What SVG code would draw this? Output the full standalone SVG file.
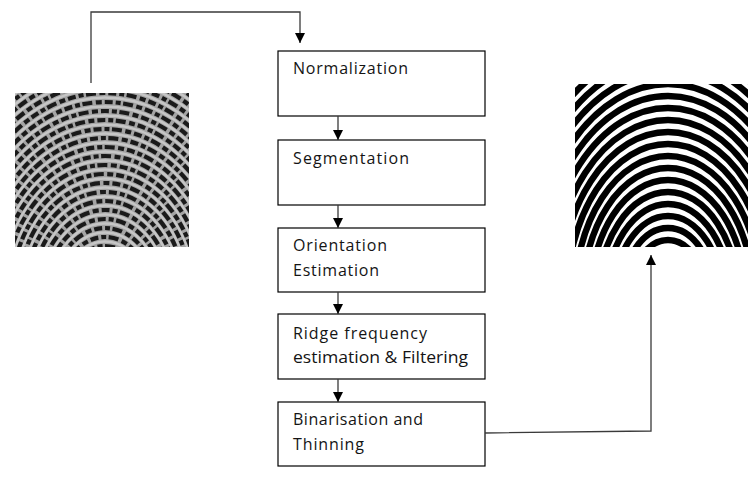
<svg xmlns="http://www.w3.org/2000/svg" width="756" height="481" viewBox="0 0 756 481">
  <style>
    .box { fill: #ffffff; stroke: #000000; stroke-width: 1.2; }
    .lbl { font-family: "Open Sans", "Liberation Sans", sans-serif; font-size: 16px; fill: #141414; }
    .conn { fill: none; stroke: #3a3a3a; stroke-width: 1.3; }
    .ridgeL { fill: none; stroke: #1a1a1a; stroke-width: 4.2; stroke-dasharray: 8 3 5 2.5 10 3.5 6 3; }
    .ridgeL2 { fill: none; stroke: #c6c6c6; stroke-width: 2.4; }
    .ridgeR { fill: none; stroke: #000000; stroke-width: 6.4; }
  </style>
  <defs>
    <marker id="arrow" viewBox="0 0 10 10" refX="10" refY="5" markerWidth="10" markerHeight="10" markerUnits="userSpaceOnUse" orient="auto">
      <path d="M0,0 L10,5 L0,10 Z" fill="#000000"/>
    </marker>
    <clipPath id="clipL"><rect x="15" y="93" width="174" height="154"/></clipPath>
    <clipPath id="clipR"><rect x="575" y="84" width="173" height="163"/></clipPath>
  </defs>

  <rect x="0" y="0" width="756" height="481" fill="#ffffff"/>

  <g id="node-input-fingerprint">
    <g clip-path="url(#clipL)">
      <rect x="15" y="93" width="174" height="154" fill="#a4a4a4"/>
      <g class="ridgeL2">
        <ellipse cx="105" cy="300" rx="37.1" ry="49.5"/>
        <ellipse cx="105" cy="300" rx="43.9" ry="58.5"/>
        <ellipse cx="105" cy="300" rx="50.6" ry="67.5"/>
        <ellipse cx="105" cy="300" rx="57.4" ry="76.5"/>
        <ellipse cx="105" cy="300" rx="64.1" ry="85.5"/>
        <ellipse cx="105" cy="300" rx="70.9" ry="94.5"/>
        <ellipse cx="105" cy="300" rx="77.6" ry="103.5"/>
        <ellipse cx="105" cy="300" rx="84.4" ry="112.5"/>
        <ellipse cx="105" cy="300" rx="91.1" ry="121.5"/>
        <ellipse cx="105" cy="300" rx="97.9" ry="130.5"/>
        <ellipse cx="105" cy="300" rx="104.6" ry="139.5"/>
        <ellipse cx="105" cy="300" rx="111.4" ry="148.5"/>
        <ellipse cx="105" cy="300" rx="118.1" ry="157.5"/>
        <ellipse cx="105" cy="300" rx="124.9" ry="166.5"/>
        <ellipse cx="105" cy="300" rx="131.6" ry="175.5"/>
        <ellipse cx="105" cy="300" rx="138.4" ry="184.5"/>
        <ellipse cx="105" cy="300" rx="145.1" ry="193.5"/>
        <ellipse cx="105" cy="300" rx="151.9" ry="202.5"/>
        <ellipse cx="105" cy="300" rx="158.6" ry="211.5"/>
        <ellipse cx="105" cy="300" rx="165.4" ry="220.5"/>
        <ellipse cx="105" cy="300" rx="172.1" ry="229.5"/>
        <ellipse cx="105" cy="300" rx="178.9" ry="238.5"/>
      </g>
      <g class="ridgeL">
        <ellipse cx="105" cy="300" rx="40.5" ry="54"/>
        <ellipse cx="105" cy="300" rx="47.3" ry="63"/>
        <ellipse cx="105" cy="300" rx="54" ry="72"/>
        <ellipse cx="105" cy="300" rx="60.8" ry="81"/>
        <ellipse cx="105" cy="300" rx="67.5" ry="90"/>
        <ellipse cx="105" cy="300" rx="74.3" ry="99"/>
        <ellipse cx="105" cy="300" rx="81" ry="108"/>
        <ellipse cx="105" cy="300" rx="87.8" ry="117"/>
        <ellipse cx="105" cy="300" rx="94.5" ry="126"/>
        <ellipse cx="105" cy="300" rx="101.3" ry="135"/>
        <ellipse cx="105" cy="300" rx="108" ry="144"/>
        <ellipse cx="105" cy="300" rx="114.8" ry="153"/>
        <ellipse cx="105" cy="300" rx="121.5" ry="162"/>
        <ellipse cx="105" cy="300" rx="128.3" ry="171"/>
        <ellipse cx="105" cy="300" rx="135" ry="180"/>
        <ellipse cx="105" cy="300" rx="141.8" ry="189"/>
        <ellipse cx="105" cy="300" rx="148.5" ry="198"/>
        <ellipse cx="105" cy="300" rx="155.3" ry="207"/>
        <ellipse cx="105" cy="300" rx="162" ry="216"/>
        <ellipse cx="105" cy="300" rx="168.8" ry="225"/>
        <ellipse cx="105" cy="300" rx="175.5" ry="234"/>
        <ellipse cx="105" cy="300" rx="182.3" ry="243"/>
      </g>
    </g>
  </g>

  <g id="node-normalization">
    <rect class="box" x="278" y="51" width="207" height="65"/>
    <text class="lbl" x="293" y="74" textLength="115" lengthAdjust="spacing">Normalization</text>
  </g>
  <g id="node-segmentation">
    <rect class="box" x="278" y="140" width="207" height="65"/>
    <text class="lbl" x="293" y="164" textLength="116" lengthAdjust="spacing">Segmentation</text>
  </g>
  <g id="node-orientation">
    <rect class="box" x="278" y="228" width="207" height="64"/>
    <text class="lbl" x="293" y="251" textLength="94" lengthAdjust="spacing">Orientation</text>
    <text class="lbl" x="293" y="276" textLength="86" lengthAdjust="spacing">Estimation</text>
  </g>
  <g id="node-ridge-frequency">
    <rect class="box" x="278" y="314" width="207" height="65"/>
    <text class="lbl" x="293" y="339" textLength="134" lengthAdjust="spacing">Ridge frequency</text>
    <text class="lbl" x="293" y="363" textLength="175" lengthAdjust="spacingAndGlyphs">estimation &amp; Filtering</text>
  </g>
  <g id="node-binarisation">
    <rect class="box" x="278" y="402" width="207" height="64"/>
    <text class="lbl" x="293" y="425" textLength="130" lengthAdjust="spacing">Binarisation and</text>
    <text class="lbl" x="293" y="450" textLength="71" lengthAdjust="spacing">Thinning</text>
  </g>

  <g id="node-output-fingerprint">
    <g clip-path="url(#clipR)">
      <rect x="575" y="84" width="173" height="163" fill="#ffffff"/>
      <g class="ridgeR">
        <ellipse cx="668" cy="300" rx="39" ry="60"/>
        <ellipse cx="668" cy="300" rx="46.8" ry="72"/>
        <ellipse cx="668" cy="300" rx="54.6" ry="84"/>
        <ellipse cx="668" cy="300" rx="62.4" ry="96"/>
        <ellipse cx="668" cy="300" rx="70.2" ry="108"/>
        <ellipse cx="668" cy="300" rx="78" ry="120"/>
        <ellipse cx="668" cy="300" rx="85.8" ry="132"/>
        <ellipse cx="668" cy="300" rx="93.6" ry="144"/>
        <ellipse cx="668" cy="300" rx="101.4" ry="156"/>
        <ellipse cx="668" cy="300" rx="109.2" ry="168"/>
        <ellipse cx="668" cy="300" rx="117" ry="180"/>
        <ellipse cx="668" cy="300" rx="124.8" ry="192"/>
        <ellipse cx="668" cy="300" rx="132.6" ry="204"/>
        <ellipse cx="668" cy="300" rx="140.4" ry="216"/>
        <ellipse cx="668" cy="300" rx="148.2" ry="228"/>
        <ellipse cx="668" cy="300" rx="156" ry="240"/>
        <ellipse cx="668" cy="300" rx="163.8" ry="252"/>
        <ellipse cx="668" cy="300" rx="171.6" ry="264"/>
      </g>
    </g>
  </g>

  <g id="connectors">
    <path class="conn" d="M91,83 V12 H300 V43" marker-end="url(#arrow)"/>
    <path class="conn" d="M338,116 V140" marker-end="url(#arrow)"/>
    <path class="conn" d="M338,205 V228" marker-end="url(#arrow)"/>
    <path class="conn" d="M338,292 V314" marker-end="url(#arrow)"/>
    <path class="conn" d="M338,379 V402" marker-end="url(#arrow)"/>
    <path class="conn" d="M485,433 L651,431 V255" marker-end="url(#arrow)"/>
  </g>
</svg>
